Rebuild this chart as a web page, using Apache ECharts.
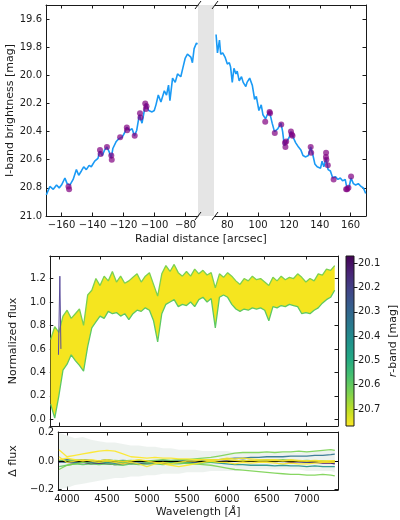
<!DOCTYPE html>
<html>
<head>
<meta charset="utf-8">
<script src="https://cdn.jsdelivr.net/npm/echarts@6/dist/echarts.min.js"></script>
<style>html,body{margin:0;padding:0;background:#fff}#c{width:400px;height:520px}</style>
</head>
<body>
<div id="c"></div>
<script>
// ---- top panel: I-band profile (radius in arcsec, brightness in mag)
var leftR = [-169.8,-167.5,-165.3,-163.2,-161.5,-160,-157.8,-156.4,-154.6,-152.5,-150.4,-148.9,-147.2,-145.7,-144,-142.2,-140.8,-138.6,-136.5,-135.4,-133.7,-132.2,-130.7,-129.4,-127.9,-126.9,-124.7,-123,-120.9,-119.4,-117.9,-116.2,-114.5,-113,-111.5,-109.8,-108.1,-106.6,-105.5,-103.8,-101.6,-100.2,-99.1,-97.6,-95.9,-93.7,-92.3,-91,-90.1,-88.4,-86.7,-85.2,-83.1,-81.6,-80.3,-78.8,-77.7,-76.6,-75.6,-74.5,-73,-72.4];
var leftMag = [20.85,20.79,20.81,20.78,20.80,20.78,20.73,20.77,20.78,20.74,20.67,20.71,20.68,20.65,20.67,20.64,20.65,20.61,20.59,20.54,20.57,20.53,20.51,20.54,20.59,20.52,20.47,20.45,20.44,20.41,20.37,20.39,20.38,20.43,20.39,20.28,20.34,20.25,20.2,20.25,20.26,20.25,20.21,20.14,20.19,20.11,20.14,20.07,20.18,20.02,20.05,19.99,20.01,19.94,19.88,19.85,19.84,19.87,19.91,19.81,19.77,19.78];
var rightR = [72.7,73.6,74.9,75.7,77,78.5,79.1,80,81.3,82.1,83.2,84.3,85.6,86.4,87.7,89.2,90.3,92,92.8,94.5,96.2,97.7,98.8,100.5,102,103.1,104.8,105.9,107.4,109.1,110.6,112.7,114.8,115.9,117,118.5,120.2,121.2,122.7,124.4,126.2,127.7,129.1,130.9,132.6,134.1,135.6,136.8,138.3,139.4,140.5,141.5,142.6,144.1,145.4,146.9,148.4,150.1,151.8,153.3,154.8,156.5,157.6,159.1,160.3,161.8,163.3,165,166.8,168.3,169.8];
var rightMag = [19.71,19.84,19.75,19.85,19.84,19.87,19.86,19.92,19.91,19.94,20.05,19.95,19.99,19.97,20.04,20.01,20.05,20.08,20.05,20.02,20.07,20.17,20.15,20.25,20.21,20.28,20.31,20.28,20.26,20.34,20.4,20.38,20.34,20.4,20.5,20.47,20.44,20.4,20.44,20.48,20.51,20.53,20.57,20.58,20.57,20.51,20.57,20.63,20.65,20.64,20.66,20.61,20.65,20.59,20.67,20.68,20.73,20.72,20.74,20.73,20.75,20.74,20.8,20.79,20.73,20.77,20.78,20.77,20.79,20.8,20.84];
// purple markers (spectrum positions)
var leftDotR = [-155.5,-155.1,-135.2,-134.8,-130.7,-127.9,-127.6,-122.2,-117.9,-117.7,-112.8,-109.4,-109.1,-106.0,-105.6,-105.2];
var leftDotMag = [20.79,20.81,20.53,20.56,20.51,20.57,20.60,20.44,20.37,20.39,20.43,20.27,20.30,20.20,20.24,20.22];
var rightDotR = [104.6,107.4,107.7,110.8,115,117.4,117.7,118.2,121.3,121.8,122.3,134.1,134.4,144.1,144.0,144.3,145.2,149,157.1,157.8,158.6,160.3];
var rightDotMag = [20.33,20.26,20.27,20.41,20.35,20.48,20.51,20.47,20.4,20.42,20.43,20.51,20.55,20.55,20.58,20.6,20.64,20.74,20.81,20.81,20.8,20.72];

// ---- middle panel: normalized spectra envelope
var wave = [3900,3950,4000,4050,4100,4150,4200,4250,4300,4350,4400,4450,4500,4550,4600,4650,4700,4750,4800,4850,4900,4950,5000,5050,5100,5150,5200,5250,5300,5350,5400,5450,5500,5550,5600,5650,5700,5750,5800,5850,5900,5950,6000,6050,6100,6150,6200,6250,6300,6350,6400,6450,6500,6550,6600,6650,6700,6750,6800,6850,6900,6950,7000,7050,7100,7150,7200,7250,7300,7350];
var fluxHi = [0.68,0.79,0.74,0.88,0.93,0.86,0.90,0.94,0.80,1.06,1.10,1.20,1.14,1.22,1.18,1.26,1.17,1.22,1.16,1.18,1.21,1.24,1.17,1.22,1.25,1.15,1.05,1.24,1.31,1.26,1.32,1.25,1.22,1.26,1.22,1.28,1.24,1.27,1.23,1.25,1.12,1.24,1.21,1.25,1.22,1.18,1.15,1.20,1.18,1.22,1.19,1.20,1.17,1.14,1.21,1.18,1.22,1.19,1.21,1.20,1.24,1.21,1.17,1.20,1.18,1.24,1.23,1.28,1.27,1.31];
var fluxLo = [0.13,0.01,0.20,0.42,0.47,0.55,0.50,0.46,0.41,0.62,0.78,0.83,0.88,0.86,0.92,0.90,0.91,0.88,0.90,0.85,0.90,0.93,0.92,0.95,0.93,0.84,0.66,0.90,0.98,1.00,1.02,0.96,0.98,0.97,1.00,0.96,1.02,1.04,1.00,1.03,0.78,1.04,1.06,1.04,0.98,0.94,0.92,0.94,0.93,0.95,0.94,0.95,0.93,0.84,0.96,0.95,0.97,0.96,0.98,0.97,0.96,0.90,0.91,0.90,0.93,0.95,0.99,1.02,1.04,1.10];
var spikeW = [3995,4012,4025];
var spikeF = [0.55,1.22,0.6];

// ---- bottom panel: residuals
var resW = [3900,4000,4100,4200,4300,4400,4500,4600,4700,4800,4900,5000,5100,5200,5300,5400,5500,5600,5700,5800,5900,6000,6100,6200,6300,6400,6500,6600,6700,6800,6900,7000,7100,7200,7300,7350];
var hazeHi = [0.2,0.18,0.16,0.17,0.15,0.14,0.13,0.13,0.12,0.11,0.11,0.1,0.1,0.09,0.09,0.08,0.08,0.08,0.07,0.07,0.07,0.07,0.06,0.06,0.06,0.06,0.06,0.06,0.06,0.06,0.06,0.07,0.07,0.07,0.07,0.08];
var hazeLo = [-0.2,-0.19,-0.17,-0.16,-0.15,-0.14,-0.13,-0.12,-0.12,-0.11,-0.11,-0.1,-0.1,-0.09,-0.09,-0.09,-0.08,-0.08,-0.08,-0.07,-0.07,-0.07,-0.07,-0.06,-0.06,-0.06,-0.06,-0.06,-0.06,-0.06,-0.06,-0.07,-0.07,-0.07,-0.07,-0.08];
var resPurple = [0.0,-0.01,-0.015,-0.01,-0.02,-0.015,-0.02,-0.025,-0.02,-0.015,-0.02,-0.015,-0.01,-0.02,-0.015,-0.01,-0.015,-0.01,-0.005,-0.01,-0.005,0.0,0.0,0.005,0.0,-0.005,0.0,-0.005,0.0,-0.01,-0.005,-0.01,-0.01,-0.015,-0.015,-0.02];
var resBlue = [-0.01,0.0,-0.01,-0.005,-0.01,-0.015,-0.01,-0.015,-0.01,-0.02,-0.015,-0.02,-0.015,-0.01,-0.015,-0.01,-0.01,-0.005,-0.01,0.0,-0.005,0.0,0.005,0.0,0.005,0.0,0.005,0.0,-0.005,0.0,-0.005,-0.01,-0.005,-0.01,-0.01,-0.015];
var resTealUp = [0.0,0.01,0.0,0.01,0.005,0.0,0.01,0.0,0.005,0.0,0.005,0.0,0.0,0.005,0.0,0.0,0.005,0.0,0.005,0.01,0.01,0.015,0.02,0.02,0.025,0.025,0.03,0.03,0.03,0.035,0.035,0.035,0.04,0.04,0.045,0.048];
var resTealDown = [0.0,-0.01,-0.005,-0.01,-0.005,-0.01,-0.01,-0.015,-0.01,-0.01,-0.005,-0.01,-0.005,-0.01,-0.01,-0.005,-0.01,-0.005,-0.01,-0.01,-0.015,-0.02,-0.025,-0.025,-0.03,-0.03,-0.03,-0.035,-0.03,-0.035,-0.035,-0.04,-0.035,-0.04,-0.04,-0.04];
var resGreenMid = [-0.04,-0.03,-0.02,-0.025,-0.02,-0.025,-0.02,-0.025,-0.03,-0.02,-0.025,-0.02,-0.02,-0.025,-0.02,-0.02,-0.015,-0.02,-0.015,-0.01,-0.01,-0.005,0.0,0.005,0.0,0.005,0.01,0.005,0.01,0.005,0.0,0.005,0.0,0.0,-0.005,0.0];
var resGreenUp = [0.0,0.0,0.01,0.0,0.0,-0.005,0.0,0.005,0.0,0.005,0.0,0.0,0.005,0.01,0.005,0.01,0.01,0.015,0.02,0.025,0.035,0.045,0.055,0.06,0.06,0.06,0.065,0.06,0.065,0.065,0.07,0.065,0.07,0.075,0.08,0.075];
var resGreenDown = [-0.06,-0.03,-0.02,-0.01,-0.005,0.0,-0.005,0.0,-0.01,-0.005,0.0,-0.01,-0.005,-0.01,-0.015,-0.01,-0.015,-0.02,-0.025,-0.03,-0.04,-0.05,-0.06,-0.065,-0.07,-0.075,-0.08,-0.085,-0.09,-0.095,-0.095,-0.1,-0.1,-0.095,-0.1,-0.105];
var resYellowA = [0.08,0.03,0.04,0.05,0.06,0.07,0.075,0.07,0.05,0.03,0.025,0.02,0.025,0.02,0.02,0.015,0.015,0.01,0.01,0.01,0.01,0.01,0.005,0.0,0.005,0.0,0.0,0.005,0.0,0.005,0.0,0.0,0.005,0.0,0.0,0.0];
var resYellowB = [0.03,-0.01,0.0,0.01,0.0,-0.01,0.0,-0.01,-0.02,-0.01,-0.02,-0.04,-0.02,-0.01,-0.02,-0.01,0.0,0.0,0.01,0.0,0.01,0.02,0.015,0.02,0.015,0.01,0.01,0.01,0.005,0.01,0.005,0.0,0.0,-0.005,0.0,0.0];
var resYellowC = [0.01,0.02,0.01,0.0,0.01,0.0,0.01,0.0,-0.005,0.0,0.01,0.0,-0.01,-0.02,-0.03,-0.04,-0.03,-0.02,-0.01,0.0,-0.01,-0.01,-0.02,-0.01,-0.015,-0.01,-0.01,-0.015,-0.02,-0.015,-0.02,-0.02,-0.015,-0.01,-0.01,-0.01];

// ---- tick labels
var radLeftTicks = [-160,-140,-120,-100,-80];
var radRightTicks = [80,100,120,140,160];
var magTicks = [19.6,19.8,20.0,20.2,20.4,20.6,20.8,21.0];
var fluxTicks = [0.0,0.2,0.4,0.6,0.8,1.0,1.2];
var dfluxTicks = [-0.2,0.0,0.2];
var waveTicks = [4000,4500,5000,5500,6000,6500,7000];
var cbarTicks = [20.1,20.2,20.3,20.4,20.5,20.6,20.7];
var cbarRange = [20.07, 20.77];

var FONT = 'DejaVu Sans';
var INK = '#1a1a1a';
var viridis = ['#440154','#482475','#414487','#355f8d','#2a788e','#21918c','#22a884','#44bf70','#7ad151','#bddf26','#fde725'];

function zip(xs, ys) { return xs.map(function (x, i) { return [x, ys[i]]; }); }
function fmt1(v) { return v.toFixed(1).replace('-', '\u2212'); }
function fmt0(v) { return String(v).replace('-', '\u2212'); }

function axis(grid, pos, min, max, ticks, o) {
  o = o || {};
  return {
    type: 'value', gridIndex: grid, position: pos, min: min, max: max,
    inverse: !!o.inverse, show: o.hide ? false : true,
    splitLine: { show: false },
    axisLine: { show: o.noLine ? false : true, onZero: false, lineStyle: { color: INK, width: 1 } },
    axisTick: { show: true, inside: !o.outTicks, length: 3.5, customValues: ticks, lineStyle: { color: INK, width: 1 } },
    axisLabel: { show: !!o.labels, customValues: ticks, formatter: o.fmt || fmt1,
      fontFamily: FONT, fontSize: 10, color: INK, margin: 4 },
    name: o.name || '', nameLocation: 'middle', nameGap: o.nameGap || 0,
    nameTextStyle: { fontFamily: FONT, fontSize: 11, color: INK, rich: o.rich }
  };
}

// filled region between two curves, drawn through the axes' own scales
function band(xAx, yAx, xs, hi, lo, fill, z) {
  return {
    type: 'custom', xAxisIndex: xAx, yAxisIndex: yAx, silent: true, z: z, clip: true,
    data: [[xs[0], lo[0]]],
    renderItem: function (params, api) {
      var pts = [], i;
      for (i = 0; i < xs.length; i++) pts.push(api.coord([xs[i], hi[i]]));
      for (i = xs.length - 1; i >= 0; i--) pts.push(api.coord([xs[i], lo[i]]));
      return { type: 'polygon', shape: { points: pts }, style: { fill: fill } };
    }
  };
}

var chart = echarts.init(document.getElementById('c'), null, { renderer: 'canvas' });

var lineBase = { type: 'line', showSymbol: false, silent: true };
function resLine(data, color, z) {
  return Object.assign({}, lineBase, { xAxisIndex: 6, yAxisIndex: 4, data: zip(resW, data), z: z || 4,
    lineStyle: { color: color, width: 1.3, opacity: 0.9 } });
}

var option = {
  animation: false,
  backgroundColor: '#fff',
  grid: [
    { left: 46, top: 5, width: 152, height: 211 },
    { left: 215, top: 5, width: 151, height: 211 },
    { left: 46, top: 256, width: 292, height: 170 },
    { left: 46, top: 432, width: 292, height: 58 },
    { left: 346, top: 256, width: 8, height: 170 }
  ],
  xAxis: [
    axis(0, 'bottom', -170, -72, radLeftTicks, { labels: true, fmt: fmt0 }),
    axis(0, 'top', -170, -72, radLeftTicks),
    axis(1, 'bottom', 72, 170, radRightTicks, { labels: true, fmt: fmt0 }),
    axis(1, 'top', 72, 170, radRightTicks),
    axis(2, 'bottom', 3890, 7390, waveTicks),
    axis(2, 'top', 3890, 7390, waveTicks),
    axis(3, 'bottom', 3890, 7390, waveTicks, { labels: true, fmt: fmt0,
      name: '{n|Wavelength [}{i|\u00c5}{n|]}', nameGap: 17,
      rich: { n: { fontFamily: FONT, fontSize: 11, color: INK }, i: { fontFamily: FONT, fontSize: 11, fontStyle: 'italic', color: INK } } }),
    axis(3, 'top', 3890, 7390, waveTicks),
    axis(4, 'bottom', 0, 1, [], { hide: true })
  ],
  yAxis: [
    axis(0, 'left', 19.5, 21.0, magTicks, { inverse: true, labels: true, name: 'I-band brightness [mag]', nameGap: 28 }),
    axis(1, 'right', 19.5, 21.0, magTicks, { inverse: true }),
    axis(2, 'left', -0.057, 1.392, fluxTicks, { labels: true, name: 'Normalized flux', nameGap: 26 }),
    axis(2, 'right', -0.057, 1.392, fluxTicks),
    axis(3, 'left', -0.205, 0.205, dfluxTicks, { labels: true, name: '\u0394 flux', nameGap: 30 }),
    axis(3, 'right', -0.205, 0.205, dfluxTicks),
    axis(4, 'right', cbarRange[0], cbarRange[1], cbarTicks, { inverse: true, labels: true, outTicks: true, noLine: true,
      name: '{i|r}{n|-band [mag]}', nameGap: 34,
      rich: { n: { fontFamily: FONT, fontSize: 11, color: INK }, i: { fontFamily: FONT, fontSize: 11, fontStyle: 'italic', color: INK } } })
  ],
  graphic: [
    { type: 'rect', shape: { x: 198, y: 5, width: 16, height: 211 }, style: { fill: '#e5e5e5' }, z: 0, silent: true },
    { type: 'line', shape: { x1: 195, y1: 9, x2: 201, y2: 1 }, style: { stroke: INK, lineWidth: 1 }, z: 10 },
    { type: 'line', shape: { x1: 195, y1: 220, x2: 201, y2: 212 }, style: { stroke: INK, lineWidth: 1 }, z: 10 },
    { type: 'line', shape: { x1: 212, y1: 9, x2: 218, y2: 1 }, style: { stroke: INK, lineWidth: 1 }, z: 10 },
    { type: 'line', shape: { x1: 212, y1: 220, x2: 218, y2: 212 }, style: { stroke: INK, lineWidth: 1 }, z: 10 },
    { type: 'text', x: 201, y: 234, style: { text: 'Radial distance [arcsec]', font: '11px "DejaVu Sans"', fill: INK, textAlign: 'center' }, z: 10 }
  ],
  series: [
    // top panel
    Object.assign({}, lineBase, { xAxisIndex: 0, yAxisIndex: 0, data: zip(leftR, leftMag), z: 3,
      lineStyle: { color: '#1a9af5', width: 1.6 } }),
    Object.assign({}, lineBase, { xAxisIndex: 2, yAxisIndex: 1, data: zip(rightR, rightMag), z: 3,
      lineStyle: { color: '#1a9af5', width: 1.6 } }),
    { type: 'scatter', xAxisIndex: 0, yAxisIndex: 0, data: zip(leftDotR, leftDotMag), symbolSize: 6, z: 4,
      itemStyle: { color: '#800080', opacity: 0.7 }, silent: true },
    { type: 'scatter', xAxisIndex: 2, yAxisIndex: 1, data: zip(rightDotR, rightDotMag), symbolSize: 6, z: 4,
      itemStyle: { color: '#800080', opacity: 0.7 }, silent: true },
    // middle panel: yellow band between envelopes, green edges
    band(4, 2, wave, fluxHi, fluxLo, '#f5e51f', 3),
    Object.assign({}, lineBase, { xAxisIndex: 4, yAxisIndex: 2, data: zip(wave, fluxHi), z: 4,
      lineStyle: { color: '#7ad151', width: 1.3 } }),
    Object.assign({}, lineBase, { xAxisIndex: 4, yAxisIndex: 2, data: zip(wave, fluxLo), z: 4,
      lineStyle: { color: '#5ec962', width: 1.3 } }),
    Object.assign({}, lineBase, { xAxisIndex: 4, yAxisIndex: 2, data: zip(spikeW, spikeF), z: 5,
      lineStyle: { color: '#5b4d9c', width: 1 } }),
    // bottom panel: haze band + residual curves
    band(6, 4, resW, hazeHi, hazeLo, 'rgba(200,216,206,0.32)', 1),
    Object.assign({}, lineBase, { xAxisIndex: 6, yAxisIndex: 4, data: [], z: 2,
      markLine: { silent: true, symbol: 'none', label: { show: false }, data: [{ yAxis: 0 }],
        lineStyle: { color: '#000', width: 1.2, type: 'solid' } } }),
    resLine(resPurple, '#440154'),
    resLine(resBlue, '#3b528b'),
    resLine(resTealUp, '#2c728e'),
    resLine(resTealDown, '#21918c'),
    resLine(resGreenMid, '#5ec962'),
    resLine(resGreenUp, '#7ad151'),
    resLine(resGreenDown, '#7ad151'),
    resLine(resYellowA, '#fde725', 5),
    resLine(resYellowB, '#f0e030', 5),
    resLine(resYellowC, '#fde725', 5),
    // colour bar
    { type: 'custom', xAxisIndex: 8, yAxisIndex: 6, silent: true, z: 2,
      data: [[0, cbarRange[0], cbarRange[1]]], encode: { x: 0, y: [1, 2] },
      renderItem: function (params, api) {
        var a = api.coord([0, api.value(1)]);
        var b = api.coord([1, api.value(2)]);
        var stops = viridis.map(function (c, i) { return { offset: i / (viridis.length - 1), color: c }; });
        return { type: 'rect', shape: { x: a[0], y: a[1], width: b[0] - a[0], height: b[1] - a[1] },
          style: { fill: new echarts.graphic.LinearGradient(0, 0, 0, 1, stops), stroke: INK, lineWidth: 1 } };
      } }
  ]
};
chart.setOption(option);
</script>
</body>
</html>
